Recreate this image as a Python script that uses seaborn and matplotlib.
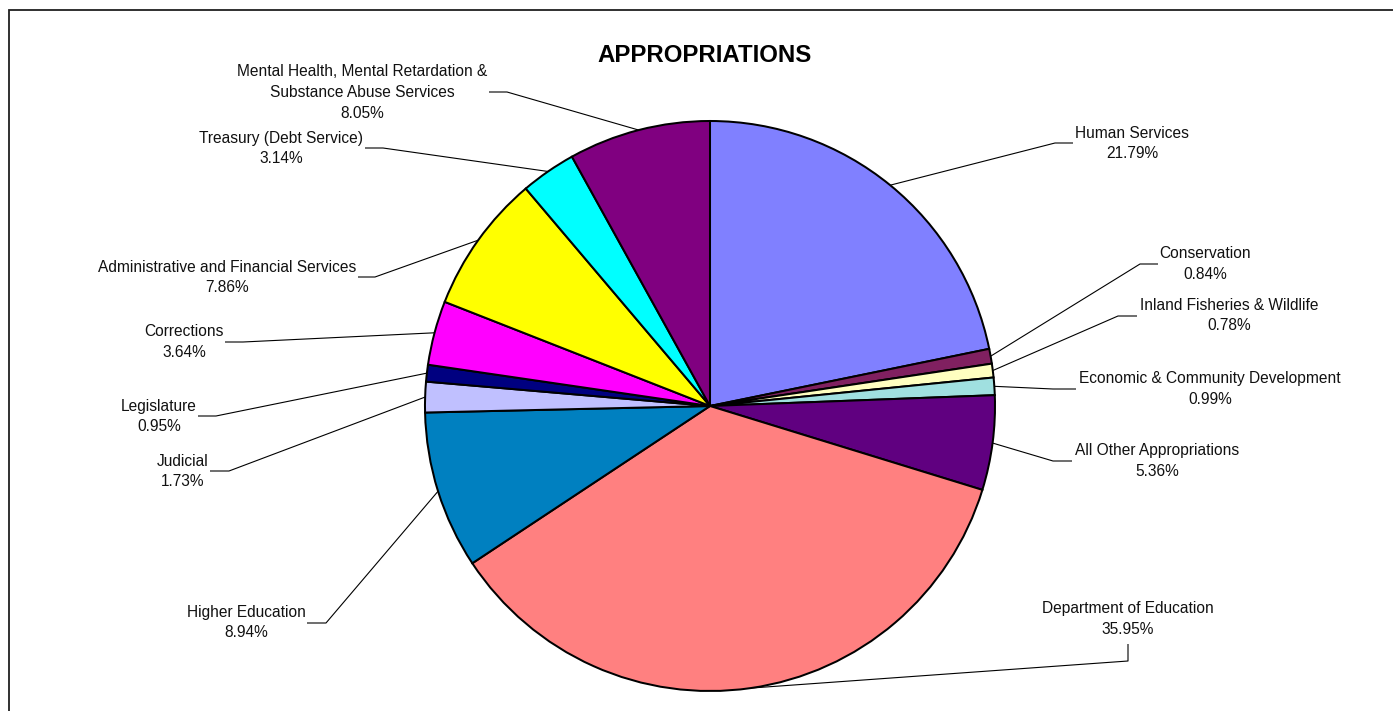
import numpy as np
import matplotlib
matplotlib.use("Agg")
import matplotlib.pyplot as plt
from matplotlib.patches import Rectangle
import seaborn as sns

# ---- data ----
categories = [
    "Human Services",
    "Conservation",
    "Inland Fisheries & Wildlife",
    "Economic & Community Development",
    "All Other Appropriations",
    "Department of Education",
    "Higher Education",
    "Judicial",
    "Legislature",
    "Corrections",
    "Administrative and Financial Services",
    "Treasury (Debt Service)",
    "Mental Health, Mental Retardation &\nSubstance Abuse Services",
]
percentages = [21.79, 0.84, 0.78, 0.99, 5.36, 35.95, 8.94, 1.73, 0.95, 3.64, 7.86, 3.14, 8.05]
colors = ["#8080FF", "#802060", "#FFFFC0", "#A0E0E0", "#600080", "#FF8080",
          "#0080C0", "#C0C0FF", "#000080", "#FF00FF", "#FFFF00", "#00FFFF", "#800080"]
title = "APPROPRIATIONS"

# ---- layout (pixel coordinates, y measured from top) ----
W, H = 1393, 711
CX, CY, R = 710, 406, 285
# (text centre x, first line centre y, leader elbow points from label side toward the pie)
label_layout = [
    (1132, 133, [(1073, 143), (1055, 143)]),
    (1205, 254, [(1158, 264), (1140, 264)]),
    (1229, 305, [(1137, 316), (1118, 316)]),
    (1210, 379, [(1076, 389), (1053, 389)]),
    (1157, 451, [(1072, 461), (1053, 461)]),
    (1128, 609, [(1128, 644), (1128, 661)]),
    (246, 612, [(307, 623), (326, 623)]),
    (183, 461, [(210, 471), (229, 471)]),
    (159, 406, [(198, 416), (216, 416)]),
    (184, 332, [(225, 342), (243, 342)]),
    (227, 267, [(358, 277), (375, 277)]),
    (281, 138, [(365, 148), (383, 148)]),
    (362, 72, [(489, 92), (507, 92)]),
]
LINE_GAP = 20.5

sns.set_theme(style="white")
plt.rcParams["font.family"] = ["Liberation Sans", "DejaVu Sans"]

fig = plt.figure(figsize=(W / 100, H / 100), dpi=100)
fig.patch.set_facecolor("white")
ax = fig.add_axes([0, 0, 1, 1])


def Y(p):
    return H - p


wedges, _ = ax.pie(
    percentages,
    colors=colors,
    startangle=90,
    counterclock=False,
    radius=R,
    center=(CX, Y(CY)),
    wedgeprops=dict(edgecolor="black", linewidth=1.45),
)
ax.set_xlim(0, W)
ax.set_ylim(0, H)
ax.set_aspect("equal")
ax.axis("off")

for w, cat, pct, (tx, ty, elbow) in zip(wedges, categories, percentages, label_layout):
    lines = cat.split("\n") + [f"{pct:.2f}%"]
    for i, ln in enumerate(lines):
        ax.text(tx, Y(ty + i * LINE_GAP), ln, ha="center", va="center",
                fontsize=11.2, color="#111111")
    ang = np.deg2rad((w.theta1 + w.theta2) / 2)
    ex, ey = CX + R * np.cos(ang), Y(CY) + R * np.sin(ang)
    xs = [p[0] for p in elbow] + [ex]
    ys = [Y(p[1]) for p in elbow] + [ey]
    ax.plot(xs, ys, color="black", lw=0.8, solid_capstyle="butt", zorder=0.5)

ax.text(705, Y(56), title, ha="center", va="center", fontsize=17.3,
        fontweight="bold", color="black")

# outer chart border
ax.add_patch(Rectangle((8.5, Y(H + 20)), W + 20, H + 20 - 9.5, fill=False,
                       edgecolor="#202020", lw=1.3, clip_on=False))

fig.savefig("out.png", dpi=100, facecolor="white")
